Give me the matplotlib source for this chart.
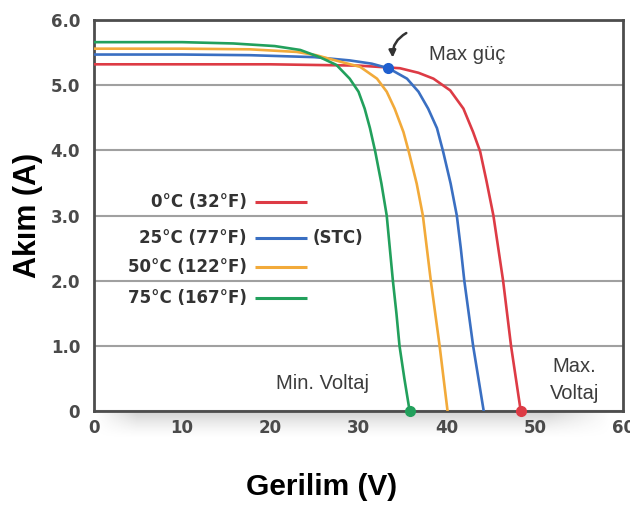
import matplotlib
matplotlib.use("Agg")
import matplotlib.pyplot as plt
import numpy as np

# I-V curves at four cell temperatures (voltage V, current A)
v_0c = [0, 10, 20, 30, 34.7, 36.8, 38.5, 40.4, 41.9, 43.0, 43.8, 44.5, 45.3,
        45.85, 46.4, 46.85, 47.3, 47.85, 48.4]
i_0c = [5.32, 5.32, 5.32, 5.30, 5.26, 5.19, 5.10, 4.92, 4.64, 4.28, 3.98, 3.54, 3.0,
        2.5, 2.0, 1.5, 1.0, 0.5, 0.0]

v_25c = [0, 10, 17.7, 25.0, 29.0, 31.5, 33.4, 35.5, 36.8, 37.9, 38.9, 39.6, 40.45, 41.15,
         41.6, 42.0, 42.5, 43.0, 43.6, 44.2]
i_25c = [5.47, 5.47, 5.46, 5.43, 5.38, 5.33, 5.26, 5.10, 4.90, 4.64, 4.34, 3.98, 3.49, 3.0,
         2.5, 2.0, 1.5, 1.0, 0.5, 0.0]

v_50c = [0, 10, 17.7, 23.0, 25.2, 27.1, 30.2, 32.1, 33.2, 34.1, 35.1, 35.7, 36.6, 37.3,
         37.75, 38.2, 38.7, 39.2, 39.65, 40.1]
i_50c = [5.56, 5.56, 5.55, 5.51, 5.46, 5.39, 5.28, 5.10, 4.90, 4.64, 4.28, 3.98, 3.49, 3.0,
         2.5, 2.0, 1.5, 1.0, 0.5, 0.0]

v_75c = [0, 10, 15.8, 20.5, 23.4, 25.6, 27.5, 29.0, 30.0, 30.7, 31.3, 31.9, 32.6, 33.2,
         33.55, 33.9, 34.3, 34.65, 35.2, 35.8]
i_75c = [5.66, 5.66, 5.64, 5.60, 5.54, 5.43, 5.31, 5.10, 4.90, 4.64, 4.34, 3.98, 3.49, 3.0,
         2.5, 2.0, 1.5, 1.0, 0.5, 0.0]

series_labels = ["0°C (32°F)", "25°C (77°F)", "50°C (122°F)", "75°C (167°F)"]
series_colors = ["#dd3b45", "#3a6fc2", "#f2aa3a", "#22a05c"]

mpp_v, mpp_i = 33.4, 5.26      # max power point, STC curve
voc_min, voc_max = 35.8, 48.4  # open circuit voltage at 75°C / 0°C

x_ticks = [0, 10, 20, 30, 40, 50, 60]
y_ticks = [0, 1, 2, 3, 4, 5, 6]
y_tick_labels = ["0", "1.0", "2.0", "3.0", "4.0", "5.0", "6.0"]

fig = plt.figure(figsize=(6.3, 5.05), dpi=100)

# soft shadow under the x axis (added first so it sits behind the tick labels)
shadow = fig.add_axes([0.15, 0.130, 0.82, 0.056])
t = np.linspace(0, 1, 40)[:, None]
s = np.linspace(0, 1, 300)[None, :]
fade = np.clip(np.minimum(s / 0.08, (1 - s) / 0.12), 0, 1)
rgba = np.zeros((40, 300, 4))
rgba[..., :3] = 0.55
rgba[..., 3] = 0.42 * (1 - t) ** 1.5 * fade
shadow.imshow(rgba, aspect="auto")
shadow.axis("off")

ax = fig.add_axes([0.1492, 0.1861, 0.8397, 0.7743])
ax.set_zorder(2)
ax.patch.set_alpha(0)

curves = [(v_0c, i_0c), (v_25c, i_25c), (v_50c, i_50c), (v_75c, i_75c)]
for (v, i), c in zip(curves, series_colors):
    ax.plot(v, i, color=c, lw=1.9, solid_joinstyle="round", zorder=3)

ax.plot([voc_min], [0], "o", color=series_colors[3], ms=7, clip_on=False, zorder=5)
ax.plot([voc_max], [0], "o", color=series_colors[0], ms=7, clip_on=False, zorder=5)
ax.plot([mpp_v], [mpp_i], "o", color="#1f5fcf", ms=7, zorder=5)

ax.set_xlim(0, 60)
ax.set_ylim(0, 6)
ax.set_xticks(x_ticks)
ax.set_yticks(y_ticks)
ax.set_yticklabels(y_tick_labels)
ax.tick_params(length=0, labelcolor="#4a4a4a")
ax.tick_params(axis="y", pad=10)
ax.tick_params(axis="x", pad=6)
for lab in ax.get_xticklabels() + ax.get_yticklabels():
    lab.set_fontfamily("DejaVu Sans")
    lab.set_fontweight("bold")
    lab.set_fontsize(12)

ax.grid(axis="y", color="#a0a0a0", lw=1.5)
ax.set_axisbelow(True)
for sp in ax.spines.values():
    sp.set_color("#4d4d4d")
    sp.set_linewidth(2)

# legend drawn by hand inside the plot
row_y = [3.21, 2.65, 2.21, 1.73]
for lab, c, y in zip(series_labels, series_colors, row_y):
    ax.plot([18.25, 24.15], [y, y], color=c, lw=2.2, solid_capstyle="butt")
    ax.text(17.35, y, lab, ha="right", va="center", fontsize=12,
            fontweight="bold", family="DejaVu Sans", color="#333333")
ax.text(24.8, row_y[1], "(STC)", ha="left", va="center", fontsize=12,
        fontweight="bold", family="DejaVu Sans", color="#333333")

ann = dict(fontsize=14.5, family="Liberation Sans", color="#3c3c3c")
ax.text(38.0, 5.47, "Max güç", ha="left", va="center", **ann)
ax.text(25.9, 0.42, "Min. Voltaj", ha="center", va="center", **ann)
ax.text(54.5, 0.68, "Max.", ha="center", va="center", **ann)
ax.text(54.5, 0.27, "Voltaj", ha="center", va="center", **ann)

ax.annotate("", xy=(mpp_v + 0.5, mpp_i + 0.12), xytext=(35.7, 5.82),
            arrowprops=dict(arrowstyle="-|>", color="#333333", lw=1.8,
                            mutation_scale=10,
                            connectionstyle="arc3,rad=0.35"))

fig.text(0.045, 0.573, "Akım (A)", rotation=90, ha="center", va="center",
         fontsize=22, fontweight="bold", family="Liberation Sans")
fig.text(0.51, 0.035, "Gerilim (V)", ha="center", va="center",
         fontsize=21.5, fontweight="bold", family="Liberation Sans")

fig.savefig("out.png", dpi=100)
